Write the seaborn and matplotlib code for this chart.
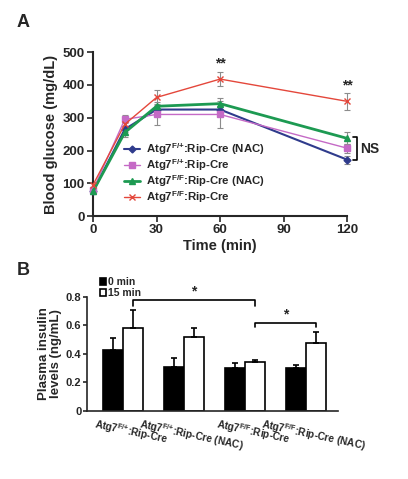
import numpy as np
import pandas as pd
import matplotlib
matplotlib.use('Agg')
import matplotlib.pyplot as plt
import matplotlib.transforms as mtransforms
import seaborn as sns

# panel A - glucose tolerance
times = [0, 15, 30, 60, 120]
fp_nac = [75, 265, 325, 325, 172]
fp_nac_err = [8, 10, 12, 12, 12]
fp = [80, 295, 310, 310, 207]
fp_err = [8, 12, 32, 42, 14]
ff_nac = [75, 255, 335, 343, 237]
ff_nac_err = [8, 15, 12, 18, 18]
ff = [95, 280, 362, 418, 350]
ff_err = [8, 12, 22, 22, 25]

# panel B - plasma insulin
groups = [r'Atg7$^{\mathrm{F/{+}}}$:Rip-Cre', r'Atg7$^{\mathrm{F/{+}}}$:Rip-Cre (NAC)',
          r'Atg7$^{\mathrm{F/F}}$:Rip-Cre', r'Atg7$^{\mathrm{F/F}}$:Rip-Cre (NAC)']
ins_0 = [0.43, 0.31, 0.30, 0.30]
ins_0_err = [0.08, 0.06, 0.035, 0.02]
ins_15 = [0.58, 0.52, 0.345, 0.475]
ins_15_err = [0.13, 0.065, 0.015, 0.08]

sns.set_style('ticks')
plt.rcParams['font.family'] = ['Liberation Sans', 'DejaVu Sans']
plt.rcParams['font.weight'] = 'bold'
plt.rcParams['axes.labelweight'] = 'bold'
plt.rcParams['mathtext.fontset'] = 'custom'
plt.rcParams['mathtext.rm'] = 'Liberation Sans:bold'
plt.rcParams['mathtext.bf'] = 'Liberation Sans:bold'

fig = plt.figure(figsize=(4.08, 4.79), dpi=100)
axA = fig.add_axes([0.228, 0.549, 0.623, 0.342])
axB = fig.add_axes([0.213, 0.142, 0.615, 0.238])

series = [
    (r'Atg7$^{\mathrm{F/{+}}}$:Rip-Cre (NAC)', fp_nac, fp_nac_err, '#2f3b8c', 'D', 1.5, 3.5),
    (r'Atg7$^{\mathrm{F/{+}}}$:Rip-Cre', fp, fp_err, '#c56ac6', 's', 1.0, 4),
    (r'Atg7$^{\mathrm{F/F}}$:Rip-Cre (NAC)', ff_nac, ff_nac_err, '#1d9a52', '^', 2.0, 5),
    (r'Atg7$^{\mathrm{F/F}}$:Rip-Cre', ff, ff_err, '#e4473b', 'x', 1.0, 5),
]
for name, vals, err, col, mk, lw, ms in series:
    axA.errorbar(times, vals, yerr=err, fmt='none', ecolor='#8c8c8c', elinewidth=0.8,
                 capsize=2.5, capthick=0.8, clip_on=False, zorder=2)
    sns.lineplot(x=times, y=vals, ax=axA, color=col, marker=mk, lw=lw, markersize=ms,
                 markeredgecolor=col, markeredgewidth=1.0, label=name, clip_on=False, zorder=3)

axA.set_xlim(0, 120)
axA.set_ylim(0, 500)
axA.set_xticks([0, 30, 60, 90, 120])
axA.set_yticks([0, 100, 200, 300, 400, 500])
axA.set_xlabel('Time (min)', fontsize=10.5, labelpad=2)
axA.set_ylabel('Blood glucose (mg/dL)', fontsize=10.5, labelpad=3)
axA.tick_params(labelsize=9.5, width=1.2, length=4, pad=2)
for s in ['left', 'bottom']:
    axA.spines[s].set_linewidth(1.5)
sns.despine(ax=axA)
axA.legend(loc='upper left', bbox_to_anchor=(0.10, 0.49), frameon=False, fontsize=8.2,
           handlelength=1.4, handletextpad=0.5, labelspacing=0.0, borderpad=0)

axA.text(60, 465, '**', ha='center', va='center', fontsize=10)
axA.text(120, 400, '**', ha='center', va='center', fontsize=10)
axA.plot([122.5, 124.5, 124.5, 122.5], [240, 240, 170, 170], color='black', lw=1.2, clip_on=False)
axA.text(126, 205, 'NS', ha='left', va='center', fontsize=10)

# panel B
dfB = pd.DataFrame({
    'group': groups * 2,
    'time': ['0 min'] * 4 + ['15 min'] * 4,
    'insulin': ins_0 + ins_15,
})
sns.barplot(data=dfB, x='group', y='insulin', hue='time', palette=['black', 'white'],
            edgecolor='black', linewidth=1.2, width=0.66, errorbar=None, ax=axB)
x = np.arange(len(groups))
axB.errorbar(x - 0.165, ins_0, yerr=[np.zeros(4), ins_0_err], fmt='none', ecolor='black',
             elinewidth=1.2, capsize=2.5, capthick=1.2)
axB.errorbar(x + 0.165, ins_15, yerr=[np.zeros(4), ins_15_err], fmt='none', ecolor='black',
             elinewidth=1.2, capsize=2.5, capthick=1.2)

axB.set_xlim(-0.59, 3.52)
axB.set_ylim(0, 0.8)
axB.set_yticks([0, 0.2, 0.4, 0.6, 0.8])
axB.set_yticklabels(['0', '0.2', '0.4', '0.6', '0.8'])
axB.set_xlabel('')
axB.set_ylabel('Plasma insulin\nlevels (ng/mL)', fontsize=9.5, labelpad=3, linespacing=0.95)
axB.tick_params(axis='y', labelsize=8, width=1.2, length=3, pad=1)
axB.tick_params(axis='x', length=0, labelsize=7.3, pad=4)
offset = mtransforms.ScaledTranslation(8 / 100, 0, fig.dpi_scale_trans)
for lab in axB.get_xticklabels():
    lab.set_rotation(-12)
    lab.set_ha('center')
    lab.set_transform(lab.get_transform() + offset)
for s in ['left', 'bottom']:
    axB.spines[s].set_linewidth(1.2)
sns.despine(ax=axB)
axB.legend(loc='upper left', bbox_to_anchor=(0.03, 1.22), frameon=False, fontsize=7.5,
           handlelength=0.6, handleheight=0.6, handletextpad=0.2, labelspacing=0.1, borderpad=0)

# significance brackets
axB.plot([0.165, 0.165, 2.165, 2.165], [0.74, 0.78, 0.78, 0.74], color='black', lw=1.2, clip_on=False)
axB.text(1.165, 0.84, '*', ha='center', va='center', fontsize=10)
axB.plot([2.165, 2.165, 3.165, 3.165], [0.59, 0.62, 0.62, 0.59], color='black', lw=1.2)
axB.text(2.665, 0.68, '*', ha='center', va='center', fontsize=10)

fig.text(0.04, 0.954, 'A', fontsize=13, fontweight='bold', va='center')
fig.text(0.04, 0.436, 'B', fontsize=13, fontweight='bold', va='center')

fig.savefig('out.png', dpi=100)
